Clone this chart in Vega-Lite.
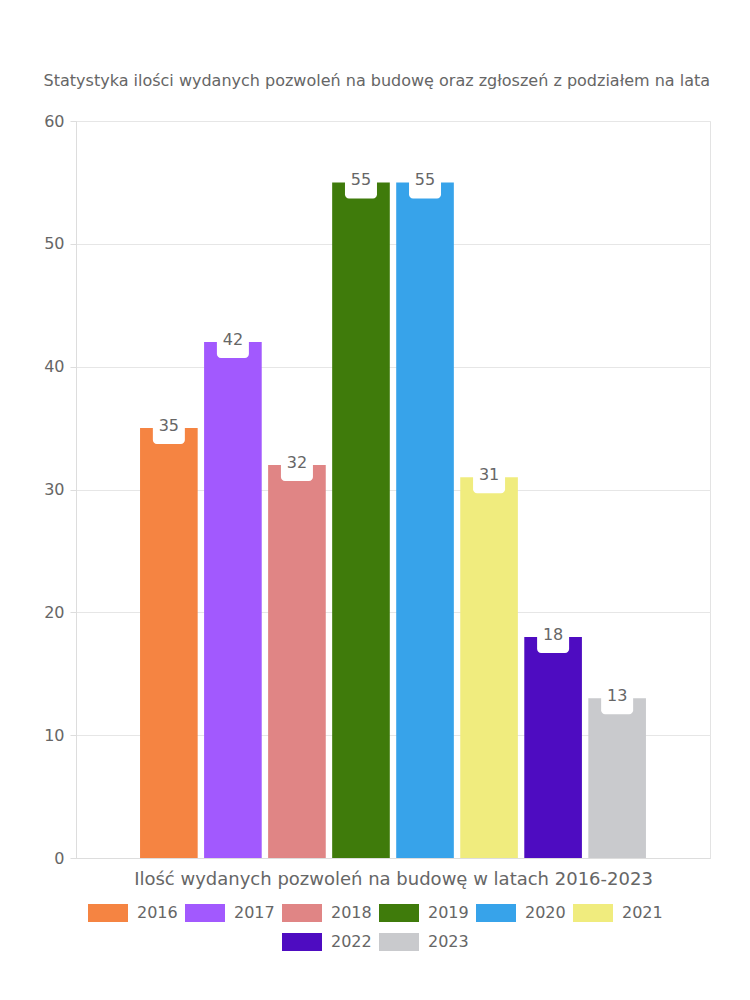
{
  "$schema": "https://vega.github.io/schema/vega-lite/v6.json",
  "width": 634,
  "height": 737,
  "padding": {"left": 43, "top": 73, "right": 40, "bottom": 20},
  "background": "white",
  "config": {
    "font": "DejaVu Sans",
    "view": {"stroke": "#e3e3e3"},
    "legend": {
      "orient": "bottom",
      "direction": "horizontal",
      "columns": 6,
      "symbolType": "M-1,-0.45L1,-0.45L1,0.45L-1,0.45Z",
      "symbolSize": 1600,
      "symbolStrokeWidth": 0,
      "symbolOpacity": 1,
      "labelFontSize": 16,
      "labelColor": "#666666",
      "labelOffset": 9,
      "columnPadding": 7,
      "rowPadding": -3,
      "offset": -7,
      "padding": 12
    }
  },
  "title": {
    "text": "Statystyka ilości wydanych pozwoleń na budowę oraz zgłoszeń z podziałem na lata",
    "fontSize": 16,
    "fontWeight": "normal",
    "color": "#666666",
    "frame": "bounds",
    "anchor": "middle",
    "offset": 24
  },
  "data": {
    "values": [
      {"rok": "2016", "liczba": 35},
      {"rok": "2017", "liczba": 42},
      {"rok": "2018", "liczba": 32},
      {"rok": "2019", "liczba": 55},
      {"rok": "2020", "liczba": 55},
      {"rok": "2021", "liczba": 31},
      {"rok": "2022", "liczba": 18},
      {"rok": "2023", "liczba": 13}
    ]
  },
  "encoding": {
    "x": {
      "field": "rok",
      "type": "nominal",
      "sort": null,
      "scale": {"paddingInner": 0.1, "paddingOuter": 1.1},
      "axis": {
        "labels": false,
        "ticks": false,
        "title": "Ilość wydanych pozwoleń na budowę w latach 2016-2023",
        "titleFontSize": 18,
        "titleFontWeight": "normal",
        "titleColor": "#666666",
        "titlePadding": 12,
        "domainColor": "#dddddd"
      }
    },
    "y": {
      "field": "liczba",
      "type": "quantitative",
      "scale": {"domain": [0, 60]},
      "axis": {
        "values": [0, 10, 20, 30, 40, 50, 60],
        "title": null,
        "labelFontSize": 16,
        "labelColor": "#666666",
        "tickColor": "#dddddd",
        "gridColor": "#e6e6e6",
        "domainColor": "#dddddd",
        "tickSize": 6,
        "labelPadding": 6
      }
    }
  },
  "layer": [
    {
      "mark": {"type": "bar"},
      "encoding": {
        "color": {
          "field": "rok",
          "type": "nominal",
          "title": null,
          "scale": {
            "domain": ["2016", "2017", "2018", "2019", "2020", "2021", "x1", "x2", "2022", "2023"],
            "range": ["#f58442", "#a259fe", "#e08585", "#3f7b0b", "#37a3ea", "#f0ec7e", "rgba(0,0,0,0)", "rgba(0,0,0,0)", "#4e0cc1", "#c9cacd"]
          },
          "legend": {
            "values": ["2016", "2017", "2018", "2019", "2020", "2021", "x1", "x2", "2022", "2023"],
            "labelExpr": "indexof(datum.label, 'x') == 0 ? '' : datum.label"
          }
        }
      }
    },
    {
      "mark": {"type": "tick", "color": "white", "size": 32, "thickness": 32, "cornerRadius": 4, "opacity": 1}
    },
    {
      "mark": {"type": "text", "fontSize": 16, "color": "#666666", "baseline": "middle", "dy": -2},
      "encoding": {"text": {"field": "liczba", "type": "quantitative"}}
    }
  ]
}
